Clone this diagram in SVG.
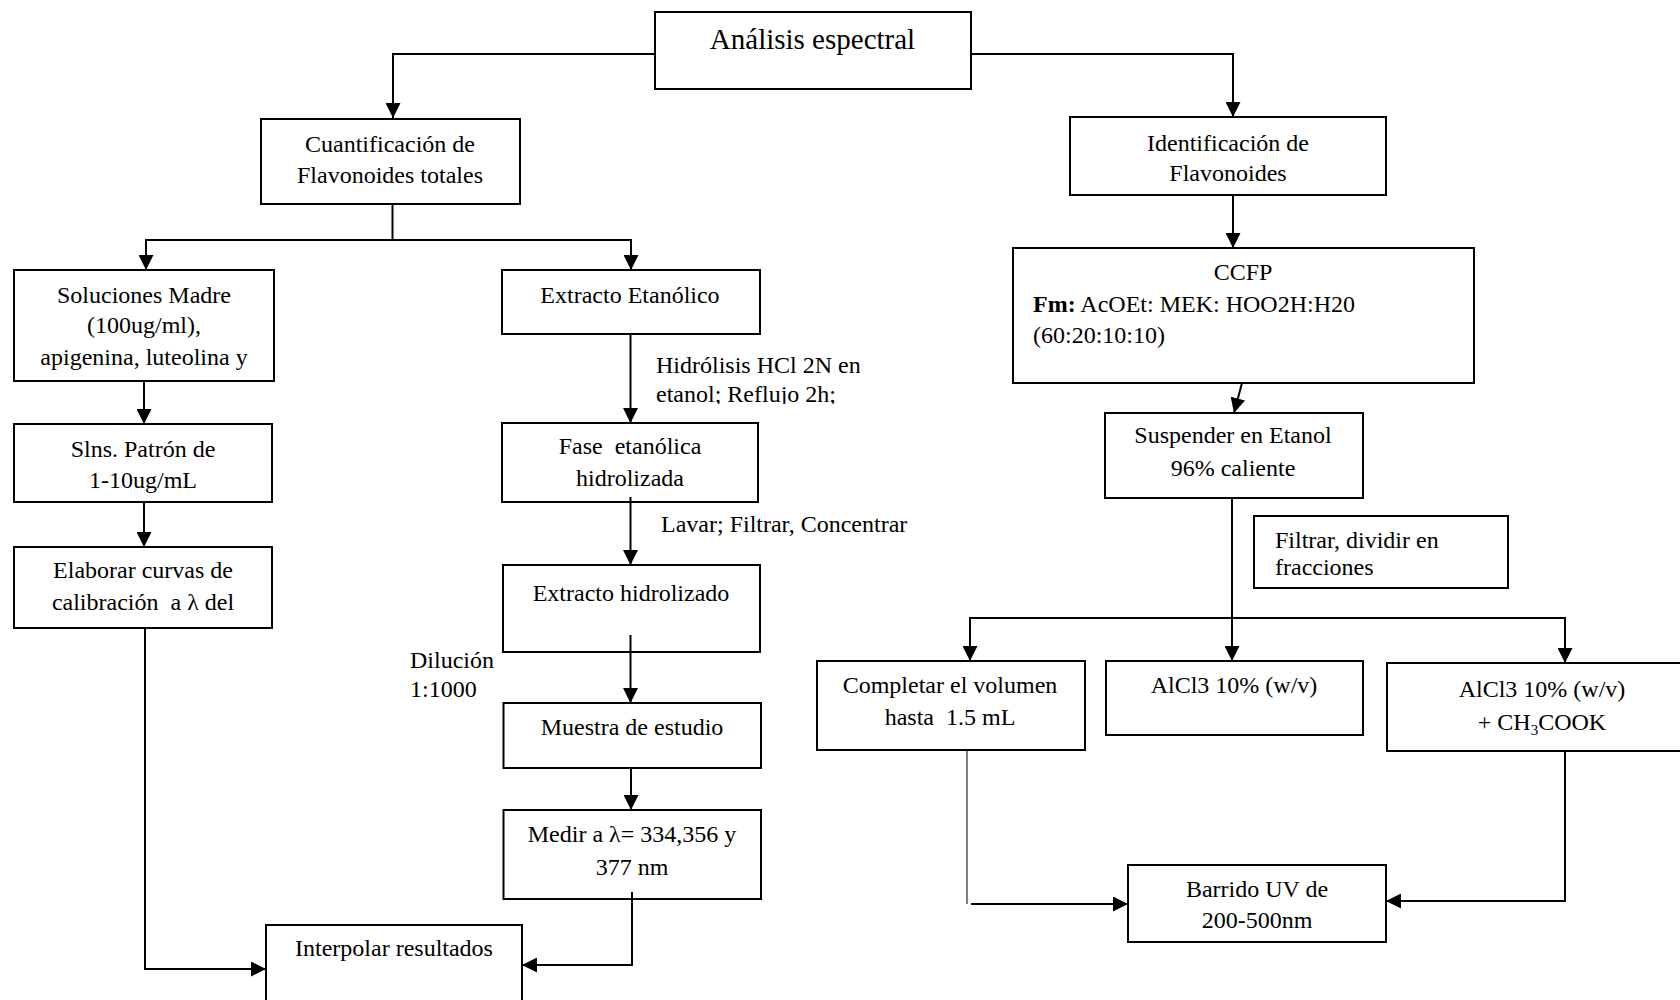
<svg xmlns="http://www.w3.org/2000/svg" width="1680" height="1000" viewBox="0 0 1680 1000">
  <style>
    .box { fill: #ffffff; stroke: #000000; stroke-width: 2; }
    .t { font-family: "Liberation Serif", "Times New Roman", serif; font-size: 24px; fill: #000000; text-anchor: middle; }
    .l { text-anchor: start; }
    .title { font-size: 29px; }
    .wire { fill: none; stroke: #000000; stroke-width: 2; }
    .thin { fill: none; stroke: #000000; stroke-width: 1; }
    .arr { marker-end: url(#head); }
  </style>
  <defs>
    <marker id="head" viewBox="0 0 15 15" refX="15" refY="7.5" markerWidth="15" markerHeight="15" markerUnits="userSpaceOnUse" orient="auto">
      <path d="M0,0 L15,7.5 L0,15 z" fill="#000000"/>
    </marker>
    <clipPath id="cut-note">
      <rect x="640" y="340" width="220" height="64"/>
    </clipPath>
  </defs>
  <rect width="1680" height="1000" fill="#ffffff"/>

  <!-- top -->
  <g id="n-analisis">
    <rect class="box" x="655" y="12" width="316" height="77"/>
    <text class="t title" x="812.5" y="49">Análisis espectral</text>
  </g>

  <!-- left branch -->
  <g id="n-cuantificacion">
    <rect class="box" x="261" y="119" width="259" height="85"/>
    <text class="t" x="390" y="152">Cuantificación de</text>
    <text class="t" x="390" y="183">Flavonoides totales</text>
  </g>
  <g id="n-soluciones">
    <rect class="box" x="14" y="270" width="260" height="111"/>
    <text class="t" x="144" y="303">Soluciones Madre</text>
    <text class="t" x="144" y="333">(100ug/ml),</text>
    <text class="t" x="144" y="365">apigenina, luteolina y</text>
  </g>
  <g id="n-slns">
    <rect class="box" x="14" y="424" width="258" height="78"/>
    <text class="t" x="143" y="457">Slns. Patrón de</text>
    <text class="t" x="143" y="488">1-10ug/mL</text>
  </g>
  <g id="n-elaborar">
    <rect class="box" x="14" y="547" width="258" height="81"/>
    <text class="t" x="143" y="578">Elaborar curvas de</text>
    <text class="t" x="143" y="610" xml:space="preserve">calibración  a λ del</text>
  </g>
  <g id="n-etanolico">
    <rect class="box" x="502" y="270" width="258" height="64"/>
    <text class="t" x="630" y="303">Extracto Etanólico</text>
  </g>
  <g id="lbl-hidrolisis" clip-path="url(#cut-note)">
    <text class="t l" x="656" y="373">Hidrólisis HCl 2N en</text>
    <text class="t l" x="656" y="402">etanol; Reflujo 2h;</text>
  </g>
  <g id="n-fase">
    <rect class="box" x="502" y="423" width="256" height="79"/>
    <text class="t" x="630" y="454" xml:space="preserve">Fase  etanólica</text>
    <text class="t" x="630" y="486">hidrolizada</text>
  </g>
  <g id="lbl-lavar">
    <text class="t l" x="661" y="532">Lavar; Filtrar, Concentrar</text>
  </g>
  <g id="n-hidrolizado">
    <rect class="box" x="503" y="565" width="257" height="87"/>
    <text class="t" x="631" y="601">Extracto hidrolizado</text>
  </g>
  <g id="lbl-dilucion">
    <text class="t l" x="410" y="668">Dilución</text>
    <text class="t l" x="410" y="697">1:1000</text>
  </g>
  <g id="n-muestra">
    <rect class="box" x="503.5" y="703" width="257.5" height="65"/>
    <text class="t" x="632" y="735">Muestra de estudio</text>
  </g>
  <g id="n-medir">
    <rect class="box" x="503.5" y="810" width="257.5" height="89"/>
    <text class="t" x="632" y="842">Medir a λ= 334,356 y</text>
    <text class="t" x="632" y="875">377 nm</text>
  </g>
  <g id="n-interpolar">
    <rect class="box" x="266" y="925" width="256" height="90"/>
    <text class="t" x="394" y="956">Interpolar resultados</text>
  </g>

  <!-- right branch -->
  <g id="n-identificacion">
    <rect class="box" x="1070" y="117" width="316" height="78"/>
    <text class="t" x="1228" y="151">Identificación de</text>
    <text class="t" x="1228" y="181">Flavonoides</text>
  </g>
  <g id="n-ccfp">
    <rect class="box" x="1013" y="248" width="461" height="135"/>
    <text class="t" x="1243" y="280">CCFP</text>
    <text class="t l" x="1033" y="312"><tspan font-weight="bold">Fm:</tspan> AcOEt: MEK: HOO2H:H20</text>
    <text class="t l" x="1033" y="343">(60:20:10:10)</text>
  </g>
  <g id="n-suspender">
    <rect class="box" x="1105" y="413" width="258" height="85"/>
    <text class="t" x="1233" y="443">Suspender en Etanol</text>
    <text class="t" x="1233" y="476">96% caliente</text>
  </g>
  <g id="n-filtrar">
    <rect class="box" x="1254" y="516" width="254" height="72"/>
    <text class="t l" x="1275" y="548">Filtrar, dividir en</text>
    <text class="t l" x="1275" y="575">fracciones</text>
  </g>
  <g id="n-completar">
    <rect class="box" x="817" y="661" width="268" height="89"/>
    <text class="t" x="950" y="693">Completar el volumen</text>
    <text class="t" x="950" y="725" xml:space="preserve">hasta  1.5 mL</text>
  </g>
  <g id="n-alcl3">
    <rect class="box" x="1106" y="661" width="257" height="74"/>
    <text class="t" x="1234" y="693">AlCl3 10% (w/v)</text>
  </g>
  <g id="n-alcl3-acetato">
    <rect class="box" x="1387" y="663" width="320" height="88"/>
    <text class="t" x="1542" y="697">AlCl3 10% (w/v)</text>
    <text class="t" x="1542" y="730">+ CH<tspan font-size="15" dy="5">3</tspan><tspan dy="-5">COOK</tspan></text>
  </g>
  <g id="n-barrido">
    <rect class="box" x="1128" y="865" width="258" height="77"/>
    <text class="t" x="1257" y="897">Barrido UV de</text>
    <text class="t" x="1257" y="928">200-500nm</text>
  </g>

  <!-- connectors -->
  <g id="connectors">
    <line class="wire" x1="655" y1="54" x2="394" y2="54"/>
    <line class="wire arr" x1="393" y1="53" x2="393" y2="118"/>
    <polyline class="wire arr" points="971,54 1233,54 1233,117"/>

    <line class="wire" x1="392.5" y1="204" x2="392.5" y2="240"/>
    <line class="wire" x1="145" y1="240" x2="632" y2="240"/>
    <line class="wire arr" x1="146" y1="240" x2="146" y2="270"/>
    <line class="wire arr" x1="631" y1="240" x2="631" y2="270"/>

    <line class="wire arr" x1="144" y1="381" x2="144" y2="424"/>
    <line class="wire arr" x1="144" y1="502" x2="144" y2="547"/>
    <polyline class="wire arr" points="145,628 145,969 266,969"/>

    <line class="wire arr" x1="630.5" y1="334" x2="630.5" y2="423"/>
    <line class="wire arr" x1="630.5" y1="497" x2="630.5" y2="565"/>
    <line class="wire arr" x1="630.5" y1="635" x2="630.5" y2="703"/>
    <line class="wire arr" x1="631" y1="768" x2="631" y2="810"/>
    <polyline class="wire arr" points="632,892 632,965 522,965"/>

    <line class="wire arr" x1="1233" y1="195" x2="1233" y2="248"/>
    <line class="wire arr" x1="1242" y1="383" x2="1234" y2="413"/>
    <line class="wire arr" x1="1232" y1="498" x2="1232" y2="661"/>
    <line class="wire" x1="969" y1="618" x2="1566" y2="618"/>
    <line class="wire arr" x1="970" y1="618" x2="970" y2="661"/>
    <line class="wire arr" x1="1565" y1="618" x2="1565" y2="663"/>

    <line class="thin" x1="967" y1="750" x2="967" y2="904"/>
    <line class="wire arr" x1="971" y1="904" x2="1128" y2="904"/>
    <polyline class="wire arr" points="1565,751 1565,901 1386,901"/>
  </g>
</svg>
